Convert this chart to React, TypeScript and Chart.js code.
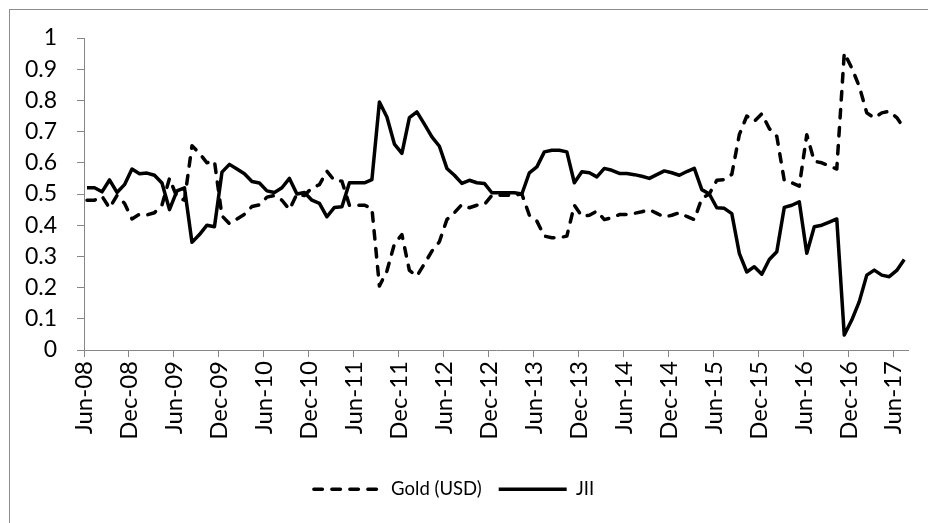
import React, { useEffect, useRef } from "react";
import { Chart, registerables } from "chart.js";

Chart.register(...registerables);

const tickLabels = [
  "Jun-08", "Dec-08", "Jun-09", "Dec-09", "Jun-10", "Dec-10", "Jun-11", "Dec-11",
  "Jun-12", "Dec-12", "Jun-13", "Dec-13", "Jun-14", "Dec-14", "Jun-15", "Dec-15",
  "Jun-16", "Dec-16", "Jun-17",
];

// monthly values, Jun-08 .. Jul-17
const jiiValues = [
  0.52, 0.52, 0.507, 0.545, 0.505, 0.53, 0.58, 0.565, 0.567, 0.56,
  0.535, 0.45, 0.51, 0.52, 0.345, 0.37, 0.40, 0.395, 0.57, 0.595,
  0.58, 0.565, 0.54, 0.535, 0.51, 0.505, 0.52, 0.55, 0.50, 0.505,
  0.48, 0.47, 0.427, 0.457, 0.459, 0.536, 0.536, 0.536, 0.546, 0.795,
  0.747, 0.66, 0.63, 0.745, 0.763, 0.724, 0.683, 0.653, 0.582, 0.56,
  0.534, 0.544, 0.536, 0.534, 0.504, 0.504, 0.504, 0.504, 0.50, 0.568,
  0.587, 0.635, 0.64, 0.64, 0.635, 0.536, 0.571, 0.568, 0.555, 0.582,
  0.576, 0.566, 0.566, 0.562, 0.557, 0.55, 0.562, 0.574, 0.568, 0.56,
  0.572, 0.582, 0.514, 0.50, 0.456, 0.454, 0.437, 0.31, 0.25, 0.267,
  0.243, 0.29, 0.315, 0.457, 0.464, 0.475, 0.31, 0.395, 0.40, 0.41,
  0.42, 0.048, 0.096, 0.155, 0.24, 0.256, 0.24, 0.235, 0.255, 0.29,
];

const goldValues = [
  0.48, 0.48, 0.493, 0.455, 0.495, 0.47, 0.42, 0.435, 0.433, 0.44,
  0.465, 0.55, 0.49, 0.48, 0.655, 0.63, 0.60, 0.605, 0.43, 0.405,
  0.42, 0.435, 0.46, 0.465, 0.49, 0.495, 0.48, 0.45, 0.50, 0.495,
  0.52, 0.53, 0.573, 0.543, 0.541, 0.464, 0.464, 0.464, 0.454, 0.205,
  0.253, 0.34, 0.37, 0.255, 0.237, 0.276, 0.317, 0.347, 0.418, 0.44,
  0.466, 0.456, 0.464, 0.466, 0.496, 0.496, 0.496, 0.496, 0.50, 0.432,
  0.413, 0.365, 0.36, 0.36, 0.365, 0.464, 0.429, 0.432, 0.445, 0.418,
  0.424, 0.434, 0.434, 0.438, 0.443, 0.45, 0.438, 0.426, 0.432, 0.44,
  0.428, 0.418, 0.486, 0.50, 0.544, 0.546, 0.563, 0.69, 0.75, 0.733,
  0.757, 0.71, 0.685, 0.543, 0.536, 0.525, 0.69, 0.605, 0.60, 0.59,
  0.58, 0.952, 0.904, 0.845, 0.76, 0.744, 0.76, 0.765, 0.745, 0.71,
];

const MONTHS_PER_TICK = 6;
const POINT_OFFSET = 0.4; // observation falls mid-month
const X_MAX = 109.9;

const AXIS_GRAY = "#868686";
const LINE_WIDTH = 3.5;
const GOLD_DASH = [8.5, 9.5];

export default function App() {
  const ref = useRef<HTMLCanvasElement>(null);

  useEffect(() => {
    const canvas = ref.current;
    if (!canvas) return;
    Chart.defaults.font.family = "Lato, 'Open Sans', sans-serif";
    const chart = new Chart(canvas, {
      type: "line",
      data: {
        datasets: [
          {
            label: "Gold (USD)",
            data: goldValues.map((v, i) => ({ x: i + POINT_OFFSET, y: v })),
            borderColor: "#000",
            backgroundColor: "#000",
            borderWidth: LINE_WIDTH,
            borderDash: GOLD_DASH,
            borderCapStyle: "round",
            borderJoinStyle: "round",
            pointRadius: 0,
            tension: 0,
            fill: false,
          },
          {
            label: "JII",
            data: jiiValues.map((v, i) => ({ x: i + POINT_OFFSET, y: v })),
            borderColor: "#000",
            backgroundColor: "#000",
            borderWidth: LINE_WIDTH,
            borderJoinStyle: "round",
            pointRadius: 0,
            tension: 0,
            fill: false,
          },
        ],
      },
      options: {
        responsive: false,
        animation: false,
        layout: { padding: { left: 0, right: 20, top: 38, bottom: 14.5 } },
        plugins: {
          legend: {
            position: "bottom",
            labels: {
              usePointStyle: true,
              pointStyle: "line",
              pointStyleWidth: 68,
              boxHeight: 18.5,
              color: "#000",
              font: { size: 18.5 },
              padding: 17,
              generateLabels: (c: any) => {
                const items = (Chart as any).defaults.plugins.legend.labels.generateLabels(c);
                items.forEach((it: any) => {
                  const ds: any = c.data.datasets[it.datasetIndex];
                  it.lineDash = ds.borderDash || [];
                  it.lineCap = ds.borderCapStyle || "butt";
                  it.lineWidth = ds.borderWidth;
                  it.strokeStyle = ds.borderColor;
                });
                return items;
              },
            },
          },
          tooltip: { enabled: false },
        },
        scales: {
          x: {
            type: "linear",
            min: 0,
            max: X_MAX,
            afterBuildTicks: (s: any) => {
              s.ticks = tickLabels.map((_, k) => ({ value: k * MONTHS_PER_TICK }));
            },
            afterFit: (s: any) => {
              s.height = 113;
            },
            ticks: {
              autoSkip: false,
              includeBounds: false,
              maxRotation: 90,
              minRotation: 90,
              color: "#000",
              font: { size: 24 },
              padding: 4,
              callback: (v: any) => tickLabels[Math.round(Number(v) / MONTHS_PER_TICK)] ?? "",
            },
            grid: { drawOnChartArea: false, drawTicks: true, tickLength: 7, color: AXIS_GRAY },
            border: { display: true, color: AXIS_GRAY, width: 1 },
          },
          y: {
            min: 0,
            max: 1,
            afterFit: (s: any) => {
              s.width = 84;
            },
            ticks: {
              stepSize: 0.1,
              color: "#000",
              font: { size: 23 },
              padding: 20,
              callback: (v: any) => String(Number(Number(v).toFixed(1))),
            },
            grid: { drawOnChartArea: false, drawTicks: true, tickLength: 7, color: AXIS_GRAY },
            border: { display: true, color: AXIS_GRAY, width: 1 },
          },
        },
      },
    } as any);
    return () => chart.destroy();
  }, []);

  return (
    <div style={{ position: "fixed", left: 0, top: 0, width: 928, height: 523, overflow: "hidden", background: "#fff" }}>
      <div
        style={{
          position: "absolute",
          left: 9,
          top: 9,
          width: 960,
          height: 560,
          border: "1px solid #8c8c8c",
        }}
      />
      <canvas ref={ref} width={928} height={523} style={{ position: "absolute", left: 0, top: 0, display: "block" }} />
    </div>
  );
}
